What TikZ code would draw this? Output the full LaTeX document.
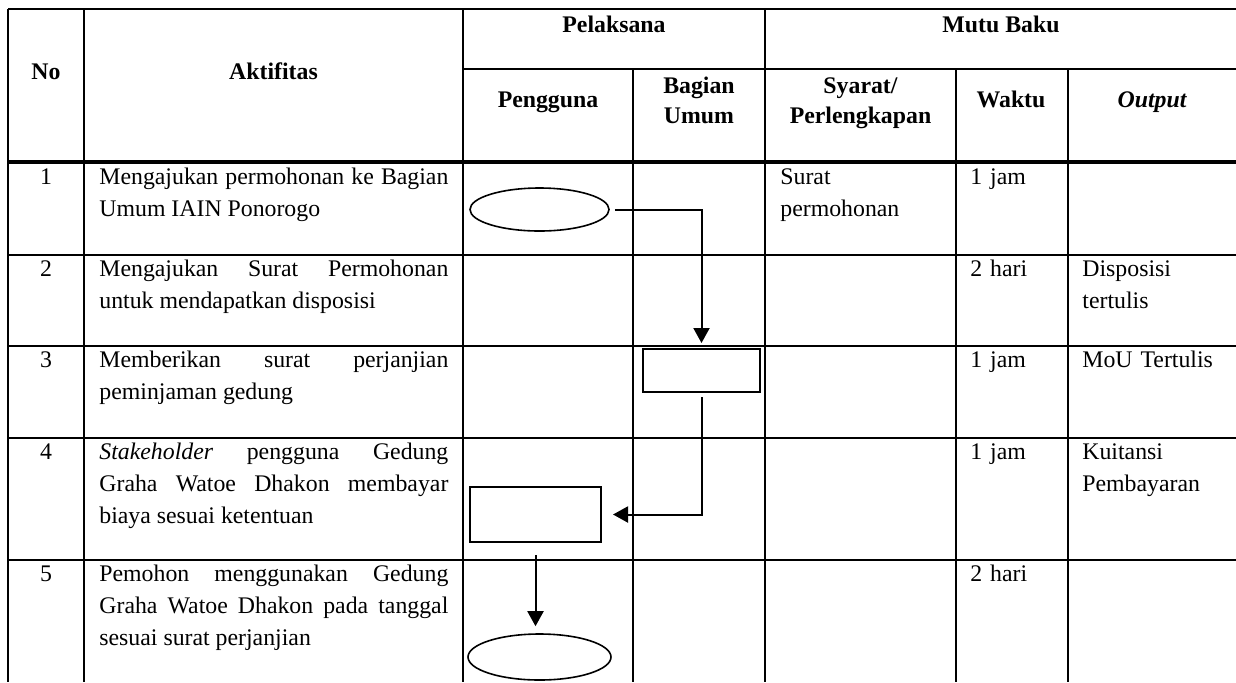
\documentclass[tikz,border=0pt]{standalone}
\usepackage{fontspec}
\setmainfont{Liberation Serif}
\usetikzlibrary{shapes.geometric,arrows.meta}
\begin{document}
\begin{tikzpicture}[x=0.5pt,y=-0.5pt,
  every node/.style={inner sep=0pt,font=\fontsize{11.9pt}{16pt}\selectfont},
  grid/.style={line width=1pt},
  head/.style={anchor=base,font=\fontsize{11.9pt}{15pt}\selectfont\bfseries,align=center},
  cell/.style={anchor=base west,text width=80pt,align=left},
  act/.style={anchor=base west,text width=174.5pt,align=justify},
  num/.style={anchor=base},
  term/.style={draw,ellipse,line width=0.8pt},
  proc/.style={draw,rectangle,line width=1pt},
  flow/.style={line width=1pt,-{Triangle[width=8pt,length=7.5pt]}}]
\useasboundingbox (0,0) rectangle (1236,682);
% table lines
\draw[grid] (8,9) -- (1236,9) (463,69) -- (1236,69);
\draw[line width=2pt] (8,162) -- (1236,162);
\foreach \y in {255,346,438,560} \draw[grid] (8,\y) -- (1236,\y);
\foreach \x in {8,84,463,765} \draw[grid] (\x,9) -- (\x,682);
\foreach \x in {633,956,1068} \draw[grid] (\x,69) -- (\x,682);
% header
\node[head] (hNo) at (46,79) {No};
\node[head] (hAkt) at (273.5,79) {Aktifitas};
\node[head] (hPel) at (614,32) {Pelaksana};
\node[head] (hMutu) at (1001,32) {Mutu Baku};
\node[head] (hPeng) at (548,107) {Pengguna};
\node[head,text width=70pt] (hBag) at (699,93) {Bagian\\Umum};
\node[head,text width=90pt] (hSyarat) at (860.5,93) {Syarat/\\Perlengkapan};
\node[head] (hWaktu) at (1011,107) {Waktu};
\node[head] (hOut) at (1152,107) {\itshape Output};
% rows
\node[num] (n1) at (46,184) {1};
\node[num] (n2) at (46,276) {2};
\node[num] (n3) at (46,367) {3};
\node[num] (n4) at (46,459) {4};
\node[num] (n5) at (46,581) {5};
\node[act] (a1) at (99,184) {Mengajukan permohonan ke Bagian\linebreak Umum IAIN Ponorogo};
\node[act] (a2) at (99,276) {Mengajukan Surat Permohonan\linebreak untuk mendapatkan disposisi};
\node[act] (a3) at (99,367) {Memberikan surat perjanjian\linebreak peminjaman gedung};
\node[act] (a4) at (99,459) {\textit{Stakeholder} pengguna Gedung\linebreak Graha Watoe Dhakon membayar\linebreak biaya sesuai ketentuan};
\node[act] (a5) at (99,581) {Pemohon menggunakan Gedung\linebreak Graha Watoe Dhakon pada tanggal\linebreak sesuai surat perjanjian};
\node[cell] (s1) at (780,184) {Surat\\permohonan};
\node[cell] (w1) at (970,184) {1 jam};
\node[cell] (w2) at (970,276) {2 hari};
\node[cell] (w3) at (970,367) {1 jam};
\node[cell] (w4) at (970,459) {1 jam};
\node[cell] (w5) at (970,581) {2 hari};
\node[cell] (o2) at (1082,276) {Disposisi\\tertulis};
\node[cell] (o3) at (1082,367) {MoU Tertulis};
\node[cell] (o4) at (1082,459) {Kuitansi\\Pembayaran};
% flow
\node[term,minimum width=69.5pt,minimum height=21.5pt] (e1) at (539.5,209.5) {};
\node[proc,minimum width=58.5pt,minimum height=21.5pt] (r3) at (701.5,370.5) {};
\node[proc,minimum width=65.5pt,minimum height=27.5pt] (r4) at (535.5,514.5) {};
\node[term,minimum width=71.5pt,minimum height=23pt] (e5) at (539.5,657) {};
\draw[flow] ([xshift=2.5pt]e1.east) -| ([yshift=2.5pt]r3.north);
\draw[flow] ([yshift=-2pt]r3.south) |- ([xshift=5.5pt]r4.east);
\draw[flow] ([yshift=-6pt]r4.south) -- ([yshift=3.5pt]r4.south |- e5.north);
\end{tikzpicture}
\end{document}
